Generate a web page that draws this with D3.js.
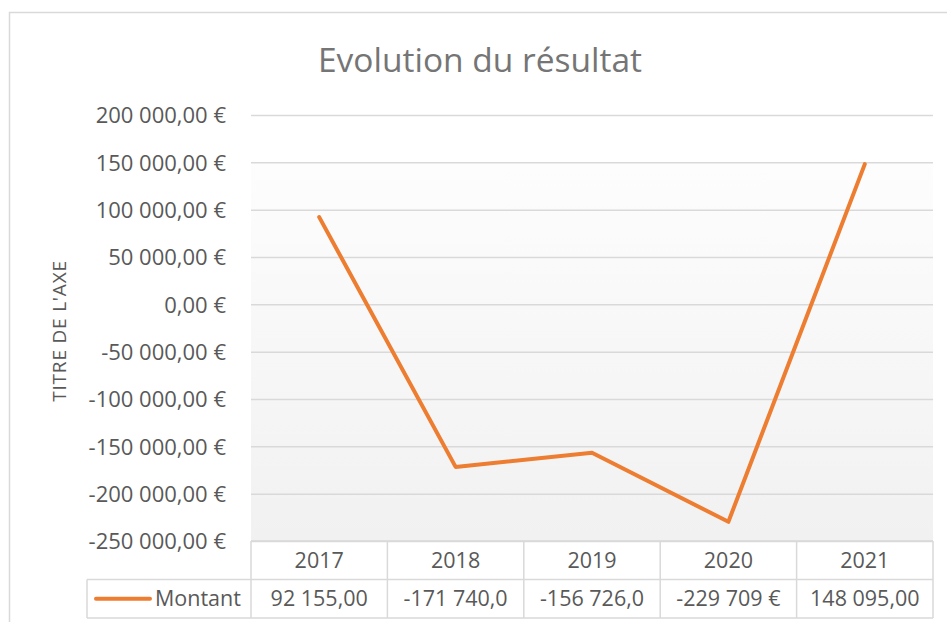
<!DOCTYPE html>
<html>
<head>
<meta charset="utf-8">
<script src="https://cdn.jsdelivr.net/npm/d3@7"></script>
<style>
  body { margin: 0; background: #fff; }
  text { font-family: "Open Sans", Lato, sans-serif; fill: #595959; }
</style>
</head>
<body>
<div id="chart"></div>
<script>
// data
var years = ["2017", "2018", "2019", "2020", "2021"];
var montant = [92155, -171740, -156726, -229709, 148095];
var tableLabels = ["92 155,00", "-171 740,0", "-156 726,0", "-229 709 €", "148 095,00"];
var yTicks = [200000, 150000, 100000, 50000, 0, -50000, -100000, -150000, -200000, -250000];
var seriesName = "Montant";

var W = 947, H = 622;
var plot = {left: 251, right: 933, top: 115, bottom: 541};
var rowH = 38.5;

var svg = d3.select("#chart").append("svg")
    .attr("width", W)
    .attr("height", H);

// chart frame
svg.append("rect")
    .attr("x", 9.5).attr("y", 12.5)
    .attr("width", W + 10).attr("height", H + 10)
    .attr("fill", "#fff")
    .attr("stroke", "#d9d9d9")
    .attr("stroke-width", 1.5);

var x = d3.scaleBand()
    .domain(years)
    .range([plot.left, plot.right]);

var y = d3.scaleLinear()
    .domain([-250000, 200000])
    .range([plot.bottom, plot.top]);

// background gradient of the plot area
var grad = svg.append("defs").append("linearGradient")
    .attr("id", "bg")
    .attr("x1", 0).attr("y1", 0).attr("x2", 0).attr("y2", 1);
grad.append("stop").attr("offset", "0%").attr("stop-color", "#fdfdfd");
grad.append("stop").attr("offset", "100%").attr("stop-color", "#f1f1f1");

svg.append("rect")
    .attr("x", plot.left)
    .attr("y", y(150000) + 2)
    .attr("width", plot.right - plot.left)
    .attr("height", y(-250000) - y(150000) - 2)
    .attr("fill", "url(#bg)");

// gridlines + tick labels
var fmt = function(v) {
    var s = d3.format(",.2f")(Math.abs(v)).replace(/,/g, " ").replace(".", ",");
    return (v < 0 ? "-" : "") + s + " €";
};

var yAxis = d3.axisLeft(y)
    .tickValues(yTicks)
    .tickSize(-(plot.right - plot.left))
    .tickPadding(25)
    .tickFormat(fmt);

var gy = svg.append("g")
    .attr("transform", "translate(" + plot.left + ",0)")
    .call(yAxis);
gy.select(".domain").remove();
gy.selectAll(".tick line")
    .attr("stroke", "#d9d9d9")
    .attr("stroke-width", 1.5);
gy.selectAll(".tick text")
    .attr("font-size", "22px")
    .attr("dy", "0.36em")
    .style("font-family", "'Open Sans', sans-serif")
    .attr("fill", "#595959");

// the line
var line = d3.line()
    .x(function(d, i) { return x(years[i]) + x.bandwidth() / 2; })
    .y(function(d) { return y(d); });

svg.append("path")
    .datum(montant)
    .attr("d", line)
    .attr("fill", "none")
    .attr("stroke", "#ed7d31")
    .attr("stroke-width", 4)
    .attr("stroke-linejoin", "round")
    .attr("stroke-linecap", "round");

// title
svg.append("text")
    .attr("x", 480)
    .attr("y", 72)
    .attr("text-anchor", "middle")
    .style("font-size", "33.5px")
    .style("fill", "#757575")
    .text("Evolution du résultat");

// axis title
svg.append("text")
    .attr("transform", "translate(66,331) rotate(-90)")
    .attr("text-anchor", "middle")
    .style("font-size", "19px")
    .style("letter-spacing", "0.8px")
    .text("TITRE DE L'AXE");

// data table
var tbl = svg.append("g");
var t0 = plot.bottom, t1 = t0 + rowH, t2 = t1 + rowH;
var legendLeft = 87;

function hline(x1, x2, yy) {
    tbl.append("line").attr("x1", x1).attr("x2", x2).attr("y1", yy).attr("y2", yy)
        .attr("stroke", "#d9d9d9").attr("stroke-width", 1.5);
}
function vline(xx, y1, y2) {
    tbl.append("line").attr("x1", xx).attr("x2", xx).attr("y1", y1).attr("y2", y2)
        .attr("stroke", "#d9d9d9").attr("stroke-width", 1.5);
}

hline(plot.left, plot.right, t0);
hline(legendLeft, plot.right, t1);
hline(legendLeft, plot.right, t2);
vline(legendLeft, t1, t2);
years.forEach(function(yr) { vline(x(yr), t0, t2); });
vline(plot.right, t0, t2);

tbl.selectAll(".yr")
    .data(years)
    .enter().append("text")
    .attr("x", function(d) { return x(d) + x.bandwidth() / 2; })
    .attr("y", (t0 + t1) / 2)
    .attr("dy", "0.36em")
    .attr("text-anchor", "middle")
    .style("font-size", "21.5px")
    .text(function(d) { return d; });

tbl.selectAll(".val")
    .data(tableLabels)
    .enter().append("text")
    .attr("x", function(d, i) { return x(years[i]) + x.bandwidth() / 2; })
    .attr("y", (t1 + t2) / 2)
    .attr("dy", "0.36em")
    .attr("text-anchor", "middle")
    .style("font-size", "21.5px")
    .text(function(d) { return d; });

// legend key inside table
tbl.append("line")
    .attr("x1", 96).attr("x2", 150)
    .attr("y1", (t1 + t2) / 2).attr("y2", (t1 + t2) / 2)
    .attr("stroke", "#ed7d31")
    .attr("stroke-width", 4)
    .attr("stroke-linecap", "round");

tbl.append("text")
    .attr("x", 155)
    .attr("y", (t1 + t2) / 2)
    .attr("dy", "0.36em")
    .style("font-size", "21.5px")
    .text(seriesName);
</script>
</body>
</html>
